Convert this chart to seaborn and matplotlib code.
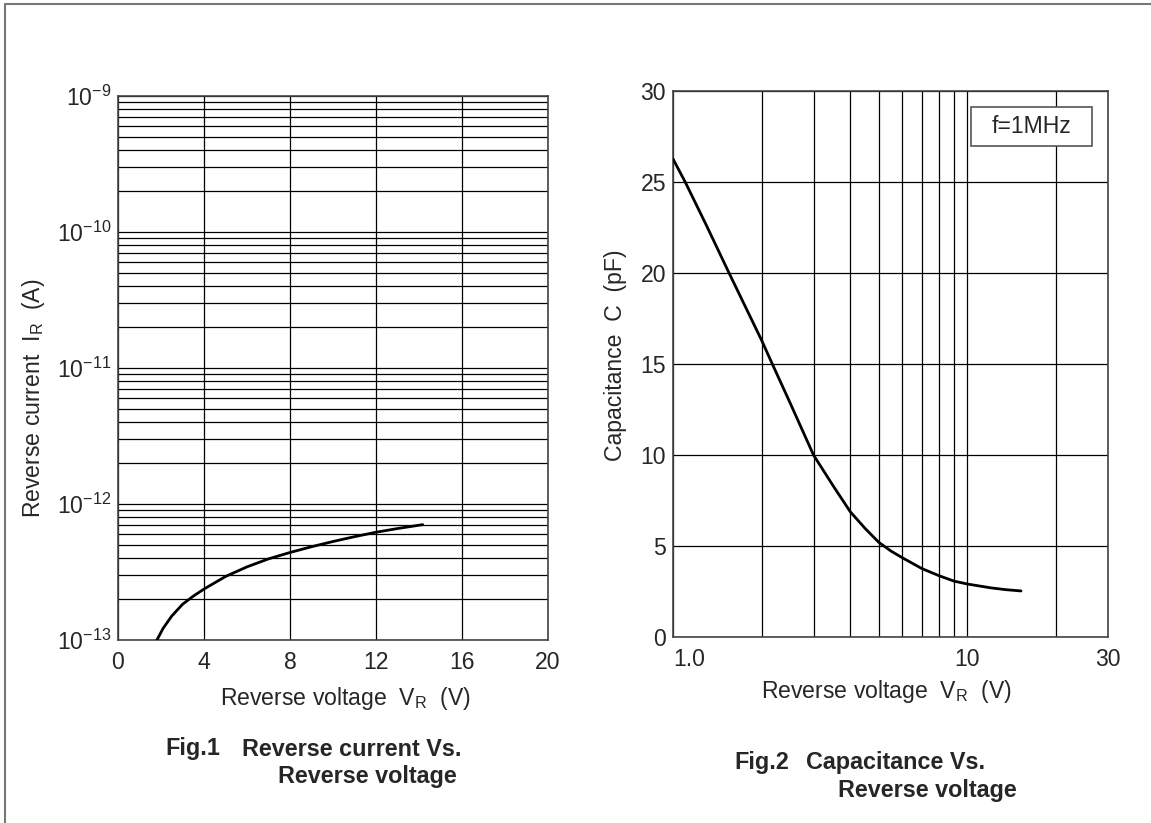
import matplotlib
matplotlib.use("Agg")
import matplotlib.pyplot as plt
import matplotlib.ticker as mticker
from matplotlib.lines import Line2D
from matplotlib.patches import Rectangle
import numpy as np
import pandas as pd
import seaborn as sns

# ---------------- data ----------------
# Fig.1  Reverse current vs reverse voltage
vr_fig1 = [1.81, 1.95, 2.1, 2.5, 3.0, 3.5, 4.0, 5.0, 6.0, 7.0, 8.0, 9.0,
           10.0, 11.0, 12.0, 13.0, 14.17]
ir_fig1 = [1.0e-13, 1.1e-13, 1.22e-13, 1.5e-13, 1.83e-13, 2.1e-13, 2.37e-13,
           2.93e-13, 3.45e-13, 3.95e-13, 4.4e-13, 4.85e-13, 5.3e-13,
           5.75e-13, 6.2e-13, 6.6e-13, 7.05e-13]
fig1_xticks = [0, 4, 8, 12, 16, 20]
fig1_yticks = [1e-13, 1e-12, 1e-11, 1e-10, 1e-9]
fig1_yticklabels = [r"$\mathregular{10^{-13}}$", r"$\mathregular{10^{-12}}$",
                    r"$\mathregular{10^{-11}}$", r"$\mathregular{10^{-10}}$",
                    r"$\mathregular{10^{-9}}$"]

# Fig.2  Capacitance vs reverse voltage
vr_fig2 = [1.0, 1.1, 1.3, 1.55, 2.0, 2.16, 2.5, 3.0, 3.5, 4.0, 4.5, 5.0, 5.5,
           6.0, 7.0, 8.0, 9.0, 10.0, 11.0, 12.0, 13.5, 15.2]
c_fig2 = [26.27, 25.0, 22.6, 20.0, 16.3, 15.1, 12.85, 10.0, 8.3, 6.88, 5.95,
          5.2, 4.72, 4.36, 3.76, 3.37, 3.07, 2.91, 2.8, 2.7, 2.6, 2.53]
fig2_xticks = [1, 10, 30]
fig2_xticklabels = ["1.0", "10", "30"]
fig2_xminor = [2, 3, 4, 5, 6, 7, 8, 9, 20]
fig2_yticks = [0, 5, 10, 15, 20, 25, 30]

# ---------------- style ----------------
sns.set_style("white")
plt.rcParams["font.family"] = ["Liberation Sans", "DejaVu Sans"]
plt.rcParams["mathtext.fontset"] = "custom"
plt.rcParams["mathtext.rm"] = "Liberation Sans"
plt.rcParams["mathtext.it"] = "Liberation Sans:italic"
plt.rcParams["mathtext.bf"] = "Liberation Sans:bold"

W, H = 1151, 823
fig = plt.figure(figsize=(W / 100, H / 100), dpi=100)
fig.patch.set_facecolor("white")

FS = 16.6
GRID = dict(color="black", linewidth=0.9)

def fx(x):
    return x / W

def fy(y):
    return 1 - y / H

# ---------------- Fig.1 ----------------
ax1 = fig.add_axes([fx(118), fy(640), 430 / W, 544 / H])
df1 = pd.DataFrame({"VR": vr_fig1, "IR": ir_fig1})
sns.lineplot(data=df1, x="VR", y="IR", ax=ax1, color="black", linewidth=2.0,
             estimator=None, sort=False, zorder=5)
ax1.set_yscale("log")
ax1.set_xlim(0, 20)
ax1.set_ylim(1e-13, 1e-9)
ax1.set_xticks(fig1_xticks)
ax1.set_xticklabels([str(t) for t in fig1_xticks], fontsize=FS)
ax1.set_yticks(fig1_yticks)
ax1.set_yticklabels(fig1_yticklabels, fontsize=FS)
ax1.yaxis.set_minor_locator(mticker.LogLocator(base=10, subs=np.arange(2, 10)))
ax1.yaxis.set_minor_formatter(mticker.NullFormatter())
ax1.tick_params(which="both", length=0)
ax1.tick_params(axis="x", pad=8)
ax1.tick_params(axis="y", pad=5)
ax1.grid(True, which="both", axis="y", **GRID)
ax1.grid(True, which="major", axis="x", **GRID)
ax1.set_axisbelow(True)
ax1.set_xlabel(r"Reverse voltage  V$_{\mathregular{R}}$  (V)", fontsize=FS)
ax1.set_ylabel(r"Reverse current  I$_{\mathregular{R}}$  (A)", fontsize=FS)
ax1.xaxis.set_label_coords(0.528, -0.083)
ax1.yaxis.set_label_coords(-0.165, 0.445)
for s in ax1.spines.values():
    s.set_color("#444444")
    s.set_linewidth(1.2)

# ---------------- Fig.2 ----------------
ax2 = fig.add_axes([fx(673), fy(637), 435 / W, 546 / H])
df2 = pd.DataFrame({"VR": vr_fig2, "C": c_fig2})
sns.lineplot(data=df2, x="VR", y="C", ax=ax2, color="black", linewidth=2.0,
             estimator=None, sort=False, zorder=5)
ax2.set_xscale("log")
ax2.set_xlim(1, 30)
ax2.set_ylim(0, 30)
ax2.set_xticks(fig2_xticks)
ax2.set_xticklabels(fig2_xticklabels, fontsize=FS)
ax2.xaxis.set_minor_locator(mticker.FixedLocator(fig2_xminor))
ax2.xaxis.set_minor_formatter(mticker.NullFormatter())
ax2.set_yticks(fig2_yticks)
ax2.set_yticklabels([str(t) for t in fig2_yticks], fontsize=FS)
ax2.tick_params(which="both", length=0)
ax2.tick_params(axis="x", pad=8)
ax2.tick_params(axis="y", pad=5)
ax2.get_xticklabels()[0].set_horizontalalignment("left")
ax2.grid(True, which="both", axis="x", **GRID)
ax2.grid(True, which="major", axis="y", **GRID)
ax2.set_axisbelow(True)
ax2.set_xlabel(r"Reverse voltage  V$_{\mathregular{R}}$  (V)", fontsize=FS)
ax2.set_ylabel("Capacitance  C  (pF)", fontsize=FS)
ax2.xaxis.set_label_coords(0.49, -0.075)
ax2.yaxis.set_label_coords(-0.106, 0.516)
for s in ax2.spines.values():
    s.set_color("#444444")
    s.set_linewidth(1.2)

# legend-like box "f=1MHz"
ax2.add_patch(Rectangle((0.684, 0.900), 0.280, 0.071, transform=ax2.transAxes,
                        facecolor="white", edgecolor="#555555", linewidth=1.2,
                        zorder=6))
ax2.text(0.824, 0.9355, "f=1MHz", transform=ax2.transAxes, ha="center",
         va="center", fontsize=FS, zorder=7)

# ---------------- captions ----------------
CAP = dict(fontsize=16.8, fontweight="bold", va="center", ha="left")
fig.text(fx(165), fy(749), "Fig.1", **CAP)
fig.text(fx(242), fy(749), "Reverse current Vs.", **CAP)
fig.text(fx(278), fy(777), "Reverse voltage", **CAP)
fig.text(fx(734), fy(763), "Fig.2", **CAP)
fig.text(fx(806), fy(763), "Capacitance Vs.", **CAP)
fig.text(fx(838), fy(790), "Reverse voltage", **CAP)

# page border (left and top edges)
fig.add_artist(Line2D([fx(4.5), fx(4.5)], [0, fy(3.5)], color="#777777",
                      linewidth=1.5, transform=fig.transFigure))
fig.add_artist(Line2D([fx(4.5), 1], [fy(3.5), fy(3.5)], color="#777777",
                      linewidth=1.5, transform=fig.transFigure))

fig.savefig("out.png", dpi=100)
